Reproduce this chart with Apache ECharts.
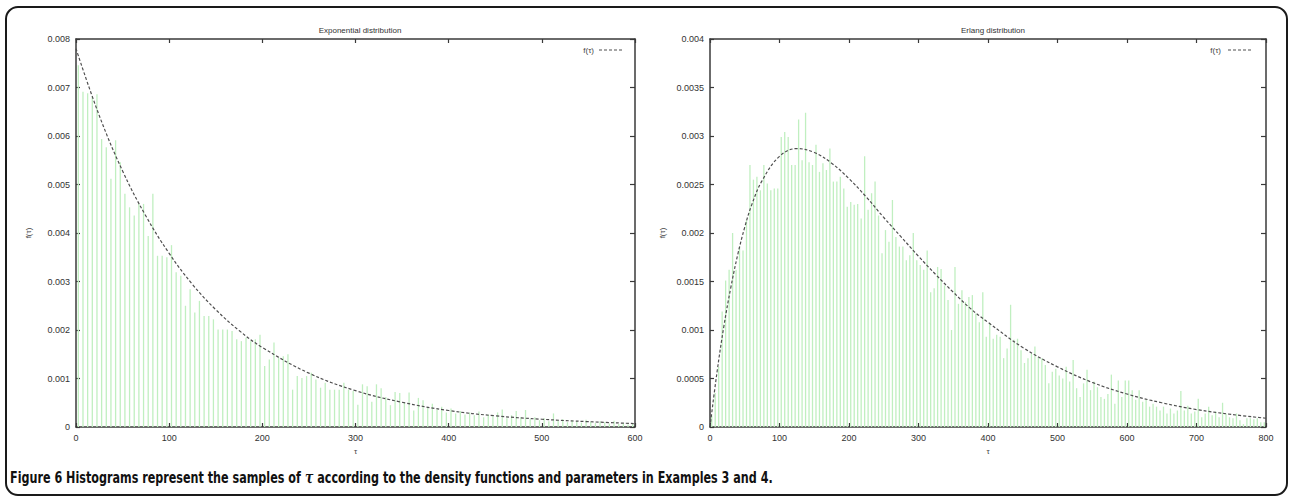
<!DOCTYPE html>
<html>
<head>
<meta charset="utf-8">
<script src="https://cdn.jsdelivr.net/npm/echarts@6/dist/echarts.min.js"></script>
<style>
html,body{margin:0;padding:0;background:#fff;}
#chart{width:1290px;height:499px;}
</style>
</head>
<body>
<div id="chart"></div>
<script>
// ---------- DATA ----------
const binWidth = 5;
// Exponential distribution histogram (bins of width 5 from 0 to 600)
const expHist = [
 0.00746,0.00691,0.00688,0.00681,0.00686,0.00594,0.00577,0.00512,0.00591,0.00546,
 0.00481,0.00453,0.00436,0.00460,0.00460,0.00394,0.00481,0.00353,0.00353,0.00350,
 0.00375,0.00319,0.00312,0.00250,0.00284,0.00236,0.00260,0.00229,0.00229,0.00222,
 0.00201,0.00201,0.00201,0.00198,0.00181,0.00177,0.00184,0.00177,0.00181,0.00190,
 0.00126,0.00139,0.00174,0.00143,0.00146,0.00150,0.00077,0.00105,0.00101,0.00105,
 0.00112,0.00098,0.00081,0.00091,0.00077,0.00077,0.00077,0.00091,0.00077,0.00074,
 0.00046,0.00088,0.00084,0.00052,0.00088,0.00080,0.00062,0.00045,0.00072,0.00070,
 0.00050,0.00071,0.00034,0.00060,0.00055,0.00040,0.00048,0.00036,0.00042,0.00030,
 0.00038,0.00028,0.00033,0.00026,0.00030,0.00024,0.00032,0.00020,0.00026,0.00022,
 0.00030,0.00036,0.00018,0.00024,0.00033,0.00020,0.00035,0.00016,0.00020,0.00014,
 0.00018,0.00012,0.00028,0.00013,0.00016,0.00010,0.00014,0.00012,0.00009,0.00015,
 0.00011,0.00008,0.00012,0.00010,0.00007,0.00013,0.00006,0.00008,0.00005,0.00006
];
// Erlang distribution histogram (bins of width 5 from 0 to 800)
const erlHist = [
 0.00012,0.00035,0.00062,0.00119,0.00151,0.00162,0.00200,0.00162,0.00186,0.00182,
 0.00213,0.00270,0.00255,0.00258,0.00244,0.00270,0.00251,0.00244,0.00246,0.00246,
 0.00299,0.00304,0.00299,0.00270,0.00270,0.00317,0.00275,0.00324,0.00273,0.00270,
 0.00291,0.00263,0.00272,0.00265,0.00287,0.00253,0.00253,0.00258,0.00246,0.00227,
 0.00232,0.00229,0.00230,0.00215,0.00279,0.00224,0.00241,0.00253,0.00218,0.00179,
 0.00203,0.00191,0.00234,0.00196,0.00186,0.00186,0.00172,0.00177,0.00200,0.00172,
 0.00167,0.00162,0.00182,0.00139,0.00143,0.00165,0.00163,0.00146,0.00131,0.00100,
 0.00165,0.00127,0.00141,0.00129,0.00134,0.00136,0.00117,0.00108,0.00139,0.00093,
 0.00107,0.00091,0.00095,0.00093,0.00071,0.00081,0.00126,0.00090,0.00091,0.00079,
 0.00066,0.00071,0.00076,0.00083,0.00072,0.00071,0.00064,0.00045,0.00057,0.00060,
 0.00053,0.00050,0.00062,0.00047,0.00069,0.00040,0.00031,0.00045,0.00059,0.00038,
 0.00047,0.00041,0.00031,0.00029,0.00034,0.00054,0.00024,0.00048,0.00031,0.00048,
 0.00048,0.00038,0.00028,0.00038,0.00026,0.00028,0.00021,0.00024,0.00021,0.00017,
 0.00021,0.00014,0.00019,0.00014,0.00017,0.00037,0.00017,0.00022,0.00014,0.00016,
 0.00029,0.00010,0.00014,0.00021,0.00012,0.00016,0.00010,0.00025,0.00014,0.00010,
 0.00009,0.00014,0.00007,0.00003,0.00009,0.00009,0.00008,0.00009,0.00005,0.00005
];
// density curves f(tau)
const expCurveX = [0,25,50,75,100,125,150,175,200,250,300,350,400,450,500,550,600];
const expCurveY = [0.00780,0.00642,0.00528,0.00435,0.00358,0.00294,0.00242,0.00199,0.00164,0.00111,0.00075,0.00051,0.00034,0.00023,0.00016,0.00011,0.00007];
const erlCurveX = [0,10,20,30,40,50,60,75,100,125,150,175,200,225,250,275,300,325,350,375,400,450,500,550,600,650,700,750,800];
const erlCurveY = [0,0.00056,0.00104,0.00144,0.00178,0.00206,0.00229,0.00254,0.00279,0.00287,0.00283,0.00272,0.00256,0.00237,0.00216,0.00196,0.00176,0.00157,0.00139,0.00122,0.00108,0.00082,0.00062,0.00046,0.00034,0.00025,0.00018,0.00013,0.00009];
const titles = ['Exponential distribution', 'Erlang distribution'];
const seriesName = 'f(\u03c4)';
const xName = '\u03c4';
const caption = ['Figure 6', ' Histograms represent the samples of ', '\u03c4', ' according to the density functions and parameters in Examples 3 and 4.'];

// ---------- CHART ----------
const chart = echarts.init(document.getElementById('chart'), null, {renderer: 'svg'});
const FONT = 'Liberation Sans';
const axisColor = '#3a3a3a';
const barColor = '#c0efc0';
const curveColor = '#4f4f4f';

function histPairs(arr) { return arr.map((v, i) => [i * binWidth + binWidth / 2, v]); }
function curvePairs(xs, ys) { return xs.map((x, i) => [x, ys[i]]); }

const grids = [
  {left: 76, right: 655, top: 39, bottom: 72},
  {left: 710, right: 24, top: 39, bottom: 72}
];
const xMax = [600, 800];
const yMax = [0.008, 0.004];
const yInt = [0.001, 0.0005];

const xAxes = [], yAxes = [];
[0, 1].forEach(g => {
  xAxes.push({
    type: 'value', gridIndex: g, min: 0, max: xMax[g], interval: 100, position: 'bottom',
    name: xName, nameLocation: 'middle', nameGap: 20,
    nameTextStyle: {fontFamily: FONT, fontSize: 8, color: '#444'},
    axisLine: {show: true, onZero: false, lineStyle: {color: axisColor, width: 1.5}},
    axisTick: {show: true, inside: true, length: 4, lineStyle: {color: axisColor, width: 1.2}},
    axisLabel: {fontFamily: FONT, fontSize: 9, color: '#333', margin: 6},
    splitLine: {show: false}
  });
  xAxes.push({
    type: 'value', gridIndex: g, min: 0, max: xMax[g], interval: 100, position: 'top',
    axisLine: {show: true, onZero: false, lineStyle: {color: axisColor, width: 1.5}},
    axisTick: {show: true, inside: true, length: 4, lineStyle: {color: axisColor, width: 1.2}},
    axisLabel: {show: false}, splitLine: {show: false}
  });
  yAxes.push({
    type: 'value', gridIndex: g, min: 0, max: yMax[g], interval: yInt[g], position: 'left',
    name: seriesName, nameLocation: 'middle', nameGap: 44, nameRotate: 90,
    nameTextStyle: {fontFamily: FONT, fontSize: 8, color: '#444'},
    axisLine: {show: true, onZero: false, lineStyle: {color: axisColor, width: 1.5}},
    axisTick: {show: true, inside: true, length: 4, lineStyle: {color: axisColor, width: 1.2}},
    axisLabel: {fontFamily: FONT, fontSize: 9, color: '#333', margin: 6},
    splitLine: {show: false}
  });
  yAxes.push({
    type: 'value', gridIndex: g, min: 0, max: yMax[g], interval: yInt[g], position: 'right',
    axisLine: {show: true, onZero: false, lineStyle: {color: axisColor, width: 1.5}},
    axisTick: {show: true, inside: true, length: 5, lineStyle: {color: axisColor, width: 1.2}},
    axisLabel: {show: false}, splitLine: {show: false}
  });
});

const series = [
  {type: 'bar', name: 'hist1', xAxisIndex: 0, yAxisIndex: 0, barWidth: 1.3,
   itemStyle: {color: barColor}, data: histPairs(expHist), silent: true},
  {type: 'line', name: seriesName, xAxisIndex: 0, yAxisIndex: 0, smooth: 0.4, symbol: 'none',
   itemStyle: {color: curveColor},
   lineStyle: {color: curveColor, width: 1.2, type: [3, 2]}, data: curvePairs(expCurveX, expCurveY), z: 5},
  {type: 'bar', name: 'hist2', xAxisIndex: 2, yAxisIndex: 2, barWidth: 1.3,
   itemStyle: {color: barColor}, data: histPairs(erlHist), silent: true},
  {type: 'line', name: seriesName, xAxisIndex: 2, yAxisIndex: 2, smooth: 0.4, symbol: 'none',
   itemStyle: {color: curveColor},
   lineStyle: {color: curveColor, width: 1.2, type: [3, 2]}, data: curvePairs(erlCurveX, erlCurveY), z: 5}
];

// caption width fit
const capPlain = caption.join('');
const mctx = document.createElement('canvas').getContext('2d');
const capFont = 'bold 16px "DejaVu Sans Condensed", "DejaVu Sans", sans-serif';
mctx.font = capFont;
const capW = mctx.measureText(capPlain).width;
const capScale = 762 / capW;

// legend key (gnuplot style: label then dashed sample) drawn with graphic elements
function legendKey(textRight, lineX1, lineX2, y) {
  return [
    {type: 'text', x: textRight, y: y, silent: true,
     style: {text: seriesName, font: '8px "Liberation Sans"', fill: '#444', align: 'right', verticalAlign: 'middle'}},
    {type: 'line', silent: true, shape: {x1: lineX1, y1: y, x2: lineX2, y2: y},
     style: {stroke: curveColor, lineWidth: 1.1, lineDash: [3, 2]}}
  ];
}

const option = {
  animation: false,
  backgroundColor: '#fff',
  title: [
    {text: titles[0], left: 355, top: 21, textAlign: 'center',
     textStyle: {fontFamily: FONT, fontSize: 8, fontWeight: 'normal', color: '#333'}},
    {text: titles[1], left: 988, top: 21, textAlign: 'center',
     textStyle: {fontFamily: FONT, fontSize: 8, fontWeight: 'normal', color: '#333'}}
  ],
  grid: grids,
  xAxis: xAxes,
  yAxis: yAxes,
  series: series,
  graphic: [
    {type: 'rect', silent: true, shape: {x: 6, y: 7, width: 1281, height: 488, r: 12},
     style: {fill: 'none', stroke: '#1a1a1a', lineWidth: 2}},
    ...legendKey(594, 599, 624, 50),
    ...legendKey(1221, 1228, 1253, 50),
    {type: 'text', x: 10, y: 477, scaleX: capScale, scaleY: 1,
     style: {
       text: '{b|' + caption[0] + '}' + caption[1] + '{i|' + caption[2] + '}' + caption[3],
       font: capFont, fill: '#111', verticalAlign: 'middle',
       rich: {
         b: {font: 'bold 16px "DejaVu Sans Condensed", "DejaVu Sans", sans-serif', fill: '#111'},
         i: {font: 'italic bold 16px "DejaVu Serif", serif', fill: '#111'}
       }
     }}
  ]
};
chart.setOption(option);
</script>
</body>
</html>
